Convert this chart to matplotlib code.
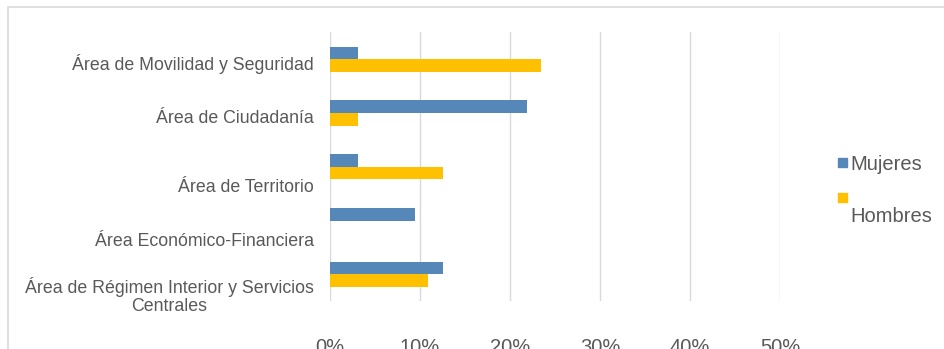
import numpy as np
import matplotlib.pyplot as plt
from matplotlib.patches import Rectangle
from matplotlib.ticker import FuncFormatter
import matplotlib.transforms as mtransforms

plt.rcParams['font.family'] = ['Liberation Sans', 'DejaVu Sans']

areas = ['Área de Movilidad y Seguridad',
         'Área de Ciudadanía',
         'Área de Territorio',
         'Área Económico-Financiera',
         'Área de Régimen Interior y Servicios\nCentrales']
mujeres = [3.1, 21.9, 3.1, 9.4, 12.5]
hombres = [23.4, 3.1, 12.5, 0.0, 10.9]
series = ['Mujeres', 'Hombres']
xticks = [0, 10, 20, 30, 40, 50]

blue = '#5587B8'
yellow = '#FFC000'
grey_text = '#595959'
grid = '#D9D9D9'

fig = plt.figure(figsize=(9.44, 3.49), dpi=100)
ax = fig.add_axes([0.3496, 0.137, 0.4767, 0.770])

# outer frame of the chart area
fig.patches.append(Rectangle((8 / 944, -0.1), 1.1, 0.1 + 342 / 349,
                             transform=fig.transFigure, fill=False,
                             edgecolor='#D9D9D9', linewidth=1.2))

y = np.arange(len(areas))
h = 0.235
ax.barh(y - h / 2, mujeres, height=h, color=blue, label=series[0])
ax.barh(y + h / 2, hombres, height=h, color=yellow, label=series[1])

ax.set_ylim(len(areas) - 0.5, -0.5)
ax.set_xlim(0, 50)
ax.set_xticks(xticks)
ax.xaxis.set_major_formatter(FuncFormatter(lambda v, p: f'{v:.0f}%'))
ax.set_yticks(y)
ax.set_yticklabels(areas, ha='right', multialignment='center',
                   linespacing=1.1)

ax.grid(axis='x', color=grid, linewidth=1)
ax.set_axisbelow(True)
for s in ax.spines.values():
    s.set_visible(False)
ax.tick_params(axis='both', length=0, colors=grey_text)
ax.tick_params(axis='y', pad=11.5, labelsize=12.8)
ax.tick_params(axis='x', pad=26.5, labelsize=14.5)

# the lower category labels sit a bit below their bars
shifts = [-3, -3, -19, -19, -19]
for lab, dy in zip(ax.get_yticklabels(), shifts):
    lab.set_transform(lab.get_transform() +
                      mtransforms.ScaledTranslation(0, dy / 100, fig.dpi_scale_trans))

# legend: square keys, the second label sits a line below its key
px = lambda x, yy: (x / 944, 1 - yy / 349)
for color, label, key_top, text_y in [(blue, series[0], 158, 165),
                                       (yellow, series[1], 193, 216)]:
    fig.patches.append(Rectangle(px(838, key_top + 9), 9 / 944, 9 / 349,
                                 transform=fig.transFigure, color=color))
    fig.text(*px(850, text_y), label, fontsize=14.5, color=grey_text,
             va='center', ha='left')

fig.savefig('out.png', dpi=100)
